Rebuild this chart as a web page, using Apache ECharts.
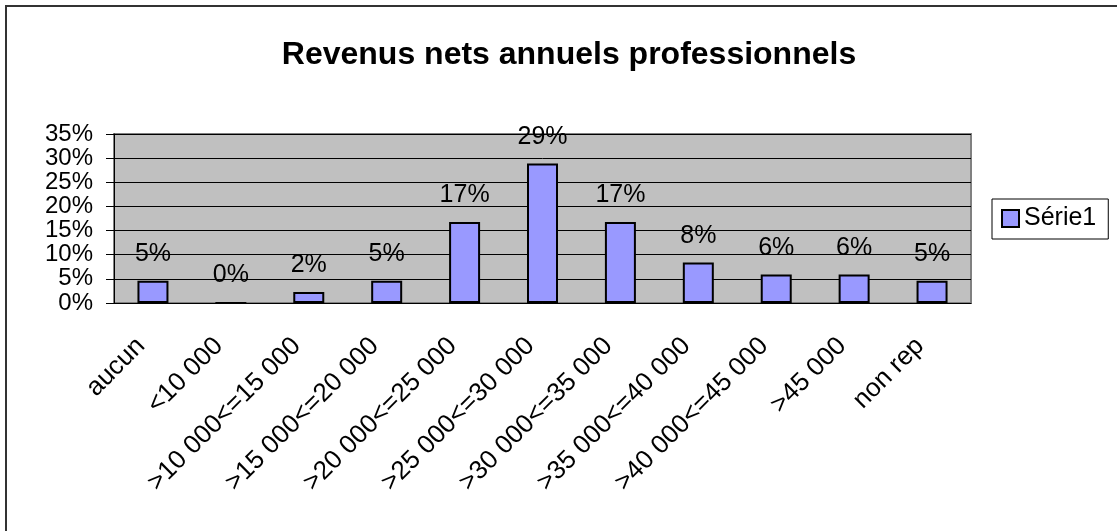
<!DOCTYPE html>
<html>
<head>
<meta charset="utf-8">
<script src="https://cdn.jsdelivr.net/npm/echarts@6/dist/echarts.min.js"></script>
<style>
  html, body { margin: 0; padding: 0; background: #fff; }
  #chart { width: 1117px; height: 531px; }
</style>
</head>
<body>
<div id="chart"></div>
<script>
// tranches de revenus
const categories = ['aucun', '<10 000', '>10 000<=15 000', '>15 000<=20 000', '>20 000<=25 000',
  '>25 000<=30 000', '>30 000<=35 000', '>35 000<=40 000', '>40 000<=45 000', '>45 000', 'non rep'];
const values = [4.6, 0, 2.3, 4.6, 16.8, 28.9, 16.8, 8.4, 5.9, 5.9, 4.6];
const yTicks = [0, 5, 10, 15, 20, 25, 30, 35];

const font = 'Liberation Sans, Arial, sans-serif';
const chart = echarts.init(document.getElementById('chart'));

chart.setOption({
  animation: false,
  backgroundColor: '#fff',
  textStyle: { fontFamily: font, color: '#000' },
  title: {
    text: 'Revenus nets annuels professionnels',
    left: 564, top: 34, textAlign: 'center',
    textStyle: { fontFamily: font, fontSize: 32, fontWeight: 'bold', color: '#000' }
  },
  legend: {
    left: 992, top: 199,
    padding: [7, 12, 8, 9],
    backgroundColor: '#fff', borderColor: '#000', borderWidth: 1, borderRadius: 0,
    icon: 'rect', itemWidth: 17, itemHeight: 17, itemGap: 4,
    itemStyle: { color: '#9999FF', borderColor: '#000', borderWidth: 2 },
    textStyle: { fontFamily: font, fontSize: 25, color: '#000' }
  },
  grid: {
    left: 114, top: 134, right: 146, bottom: 228,
    show: true, backgroundColor: '#C0C0C0', borderColor: '#808080', borderWidth: 2
  },
  xAxis: {
    type: 'category',
    data: categories,
    axisLine: { lineStyle: { color: '#000', width: 1 } },
    axisTick: { length: 8, lineStyle: { color: '#000' } },
    axisLabel: {
      interval: 0, rotate: 45, margin: 27, padding: [0, 17, 0, 0],
      fontFamily: font, fontSize: 26, color: '#000'
    }
  },
  yAxis: {
    type: 'value',
    min: yTicks[0], max: yTicks[yTicks.length - 1], interval: 5,
    axisLine: { show: true, lineStyle: { color: '#000', width: 1 } },
    axisTick: { show: true, length: 8, lineStyle: { color: '#000' } },
    axisLabel: {
      margin: 21, fontFamily: font, fontSize: 24, lineHeight: 18, color: '#000',
      showMinLabel: true, showMaxLabel: true, hideOverlap: false,
      formatter: v => v + '%'
    },
    splitLine: { lineStyle: { color: '#000', width: 1 } }
  },
  series: [{
    name: 'Série1',
    type: 'bar',
    data: values,
    barWidth: 31,
    itemStyle: { color: '#9999FF', borderColor: '#000', borderWidth: 2 },
    label: {
      show: true, position: 'top', distance: 14,
      fontFamily: font, fontSize: 25, color: '#000',
      formatter: p => Math.round(p.value) + '%'
    }
  }],
  graphic: [{
    type: 'rect',
    shape: { x: 6, y: 6, width: 1140, height: 560 },
    style: { fill: 'none', stroke: '#333', lineWidth: 2 },
    silent: true
  }]
});
</script>
</body>
</html>
